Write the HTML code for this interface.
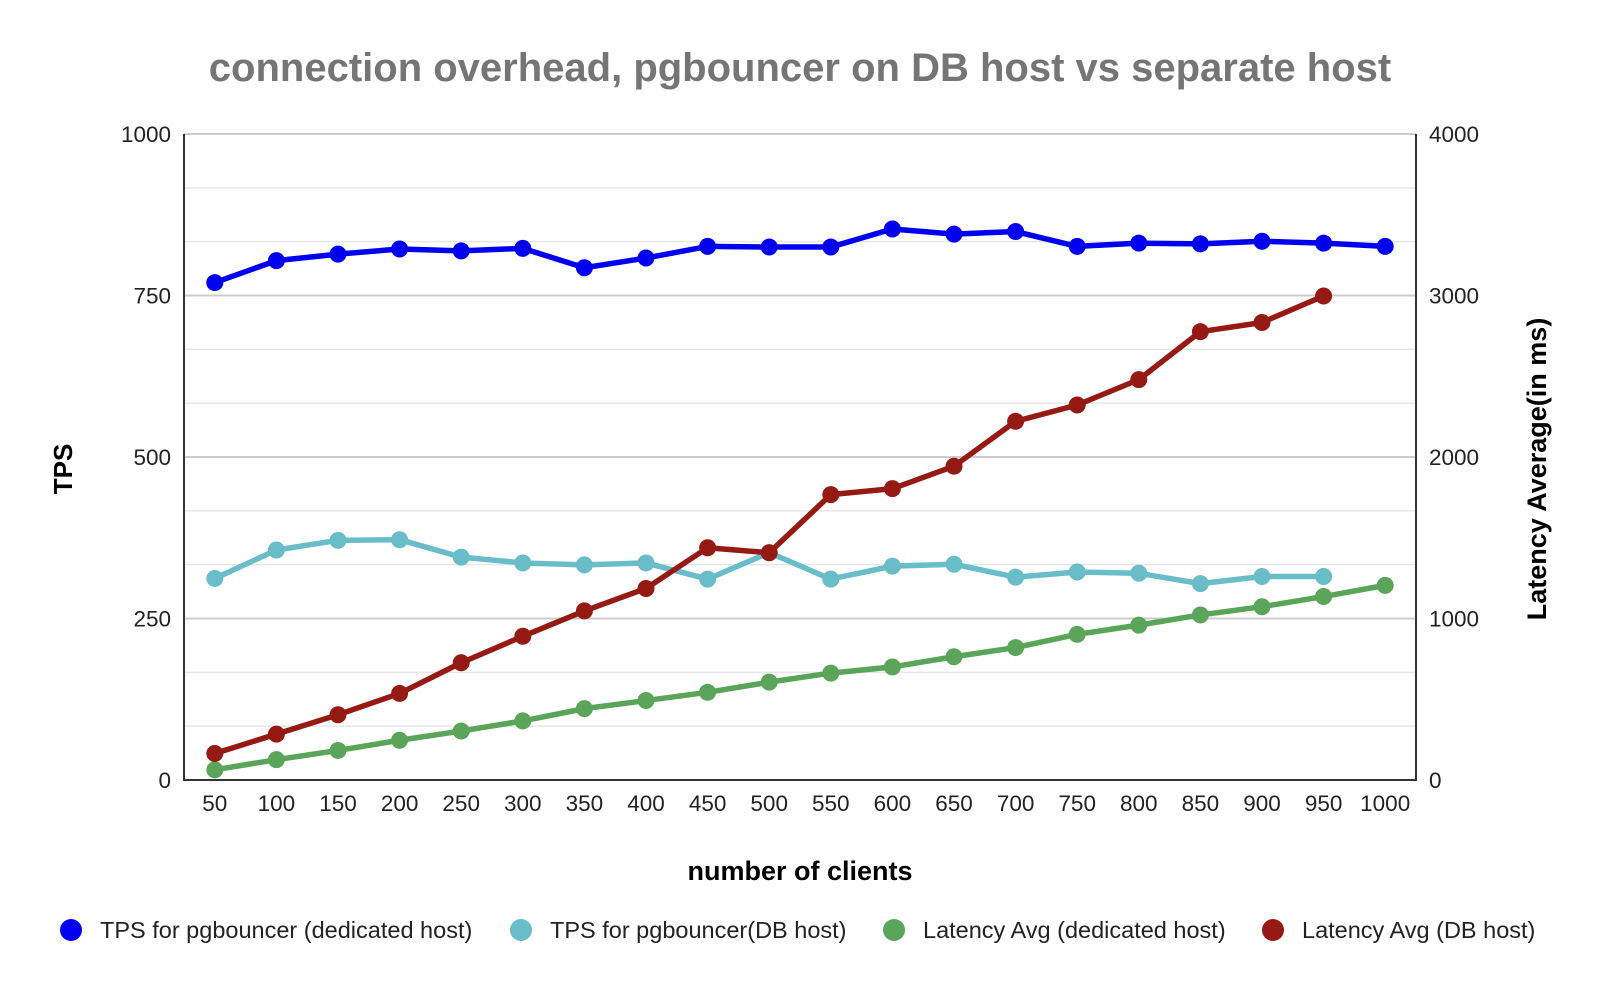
<!DOCTYPE html>
<html><head><meta charset="utf-8"><style>
body{margin:0;background:#fff;}
svg{display:block;font-family:"Liberation Sans",Arial,sans-serif;}
</style></head><body>
<svg id="chart" width="1600" height="992" viewBox="0 0 1600 992" xmlns="http://www.w3.org/2000/svg">
<rect width="1600" height="992" fill="#fff"/>
<text x="800" y="81" text-anchor="middle" font-size="40" font-weight="bold" fill="#757575">connection overhead, pgbouncer on DB host vs separate host</text>
<g id="grid"></g><g id="axes"></g><g id="series"></g>
<text x="800" y="880" text-anchor="middle" font-size="27" font-weight="bold" fill="#000">number of clients</text>
<text transform="translate(72,469) rotate(-90)" text-anchor="middle" font-size="26" font-weight="bold" fill="#000">TPS</text>
<text transform="translate(1546,469) rotate(-90)" text-anchor="middle" font-size="27" font-weight="bold" fill="#000">Latency Average(in ms)</text>
<g id="legend"></g>
</svg>
<script>
const categories=[50,100,150,200,250,300,350,400,450,500,550,600,650,700,750,800,850,900,950,1000];
const tpsDedicated=[770,804,814,822,819,823,793,808,826,825,825,853,845,849,826,831,830,834,831,826];
const tpsDbHost=[312,356,371,372,345,336,333,336,311,352,311,331,334,314,322,320,304,315,315];
const latDedicated=[63,126,183,246,303,366,442,492,543,606,662,700,763,820,902,959,1022,1073,1136,1205];
const latDbHost=[164,284,404,536,726,890,1047,1186,1438,1407,1767,1804,1943,2221,2322,2479,2776,2833,2997];
const leftTicks=[0,250,500,750,1000];
const rightTicks=[0,1000,2000,3000,4000];
const seriesNames=["TPS for pgbouncer (dedicated host)","TPS for pgbouncer(DB host)","Latency Avg (dedicated host)","Latency Avg (DB host)"];

const NS="http://www.w3.org/2000/svg";
const L=184,R=1416,T=134,B=780;
const band=(R-L)/categories.length;
const x=i=>L+band*(i+0.5);
const yL=v=>B-(v/1000)*(B-T);
const yR=v=>B-(v/4000)*(B-T);
function mk(tag,attrs,parent){const e=document.createElementNS(NS,tag);for(const k in attrs)e.setAttribute(k,attrs[k]);parent.appendChild(e);return e;}
const grid=document.getElementById('grid'),axes=document.getElementById('axes'),ser=document.getElementById('series'),leg=document.getElementById('legend');
for(let k=1;k<=12;k++){const v=k*1000/12;const ln=mk('line',{x1:L,x2:R,y1:yL(v),y2:yL(v),stroke:(k%3===0)?'#ccc':'#e6e6e6','stroke-width':(k%3===0)?2:1.5},grid);

}
const ax=mk('path',{d:`M${L},${T}V${B}H${R}V${T}`,fill:'none',stroke:'#333','stroke-width':2},axes);


leftTicks.forEach(v=>{const t=mk('text',{x:L-13,y:yL(v)+8,'text-anchor':'end','font-size':22.5,fill:'#222'},axes);t.textContent=v;

});
rightTicks.forEach(v=>{const t=mk('text',{x:R+13,y:yR(v)+8,'text-anchor':'start','font-size':22.5,fill:'#222'},axes);t.textContent=v;

});
categories.forEach((c,i)=>{const t=mk('text',{x:x(i),y:811,'text-anchor':'middle','font-size':22.5,fill:'#222'},axes);t.textContent=c;

});
const defs=[[tpsDedicated,yL,'#0000f0','series-tps-dedicated'],[tpsDbHost,yL,'#68bdc9','series-tps-db-host'],[latDedicated,yR,'#5aa55a','series-latency-dedicated'],[latDbHost,yR,'#961a14','series-latency-db-host']];
defs.forEach(([vals,yf,col,name])=>{
 const g=mk('g',{},ser);
 
 
 const pl=mk('polyline',{points:vals.map((v,i)=>x(i)+','+yf(v)).join(' '),fill:'none',stroke:col,'stroke-width':5.5,'stroke-linejoin':'round'},g);
 
 
 vals.forEach((v,i)=>{const c=mk('circle',{cx:x(i),cy:yf(v),r:8.5,fill:col},g);
 
 });
});
const lx=[71,521,894,1273];
seriesNames.forEach((n,i)=>{
 const g=mk('g',{},leg);
 
 
 mk('circle',{cx:lx[i],cy:930,r:11,fill:defs[i][2]},g);
 const t=mk('text',{x:lx[i]+29,y:938,'font-size':23.5,fill:'#222'},g);t.textContent=n;
});
</script>
</body></html>
